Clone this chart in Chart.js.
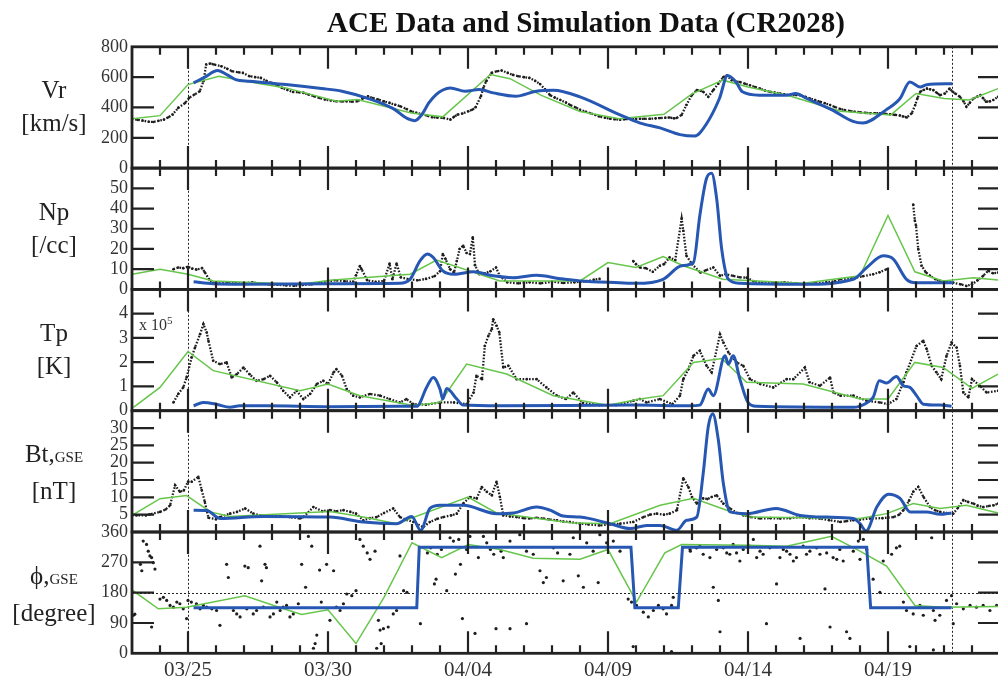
<!DOCTYPE html>
<html>
<head>
<meta charset="utf-8">
<script src="https://cdn.jsdelivr.net/npm/chart.js@4.4.1/dist/chart.umd.min.js"></script>
<style>
  html, body { margin:0; padding:0; background:#fff; width:998px; height:679px; overflow:hidden; }
  #wrap { position:relative; width:1004px; height:679px; }
  #chart { position:absolute; left:0; top:0; }
  .title { position:absolute; left:327px; top:7.7px; font:bold 29px 'Liberation Serif', serif; line-height:29px; color:#111; white-space:nowrap; }
  .ylab { position:absolute; left:0; width:108px; text-align:center; font:25px 'Liberation Serif', serif; line-height:33px; color:#222; white-space:nowrap; }
  .ylab small { font-size:15px; }
  .mult { position:absolute; left:139px; top:314px; font:16px 'Liberation Serif', serif; color:#333; }
  .mult sup { font-size:11px; }
</style>
</head>
<body>
<div id="wrap">
  <canvas id="chart" width="1004" height="679"></canvas>
  <div class="title">ACE Data and Simulation Data (CR2028)</div>
  <div class="ylab" id="lab-vr">Vr<br>[km/s]</div>
  <div class="ylab" id="lab-np">Np<br>[/cc]</div>
  <div class="ylab" id="lab-tp">Tp<br>[K]</div>
  <div class="ylab" id="lab-bt">Bt,<small>GSE</small><br>[nT]</div>
  <div class="ylab" id="lab-phi">ϕ,<small>GSE</small><br>[degree]</div>
  <div class="mult">x 10<sup>5</sup></div>
</div>
<script>
// ══════════════════════════════════════════════════════════════════════════════
//  DATA  (x = day counted from Mar 0, 2005 : 25 = 03/25, 35 = 04/04)
// ══════════════════════════════════════════════════════════════════════════════
const dateTicks  = [25, 30, 35, 40, 45, 50];
const dateLabels = ['03/25', '03/30', '04/04', '04/09', '04/14', '04/19'];
const crStart = 25, crEnd = 52.27;

// --- Vr [km/s]
const vrAce = [[23.0,326],[23.2,318],[23.38,313],[23.6,306],[23.76,304],[23.95,312],[24.14,320],[24.3,335],[24.45,353],[24.65,397],[24.9,430],[25.04,463],[25.23,485],[25.42,507],[25.55,573],[25.65,683],[25.8,690],[25.93,683],[26.19,672],[26.4,655],[26.57,639],[26.8,632],[26.96,628],[27.2,606],[27.4,600],[27.6,595],[27.8,575],[27.98,562],[28.2,545],[28.36,529],[28.55,515],[28.75,502],[28.95,500],[29.13,496],[29.3,485],[29.5,474],[29.7,462],[29.9,452],[30.1,446],[30.28,441],[30.5,440],[30.66,441],[30.85,438],[31.05,441],[31.25,460],[31.43,474],[31.6,462],[31.8,452],[32.0,440],[32.2,430],[32.4,418],[32.58,408],[32.8,390],[32.97,375],[33.15,365],[33.35,357],[33.55,345],[33.73,335],[33.9,333],[34.12,331],[34.37,320],[34.5,338],[34.63,353],[34.8,360],[35.01,375],[35.15,385],[35.27,401],[35.46,474],[35.55,530],[35.65,573],[35.84,628],[36.04,639],[36.2,643],[36.42,628],[36.6,615],[36.8,606],[37.0,600],[37.19,595],[37.4,575],[37.57,555],[37.75,520],[37.93,481],[38.1,465],[38.3,449],[38.5,432],[38.65,416],[38.85,400],[39.0,384],[39.2,372],[39.37,362],[39.55,350],[39.7,340],[39.9,332],[40.07,325],[40.25,322],[40.43,319],[40.6,322],[40.8,325],[41.0,325],[41.15,325],[41.3,325],[41.5,325],[41.7,328],[41.86,330],[42.05,332],[42.2,334],[42.35,328],[42.45,330],[42.63,351],[42.8,416],[42.99,481],[43.17,514],[43.3,510],[43.4,503],[43.58,470],[43.76,514],[43.94,557],[44.12,600],[44.24,611],[44.42,579],[44.55,572],[44.71,568],[44.9,556],[45.07,546],[45.25,535],[45.43,524],[45.6,512],[45.79,503],[45.95,498],[46.14,492],[46.3,487],[46.5,481],[46.7,482],[46.86,481],[47.05,470],[47.21,459],[47.4,448],[47.57,438],[47.75,428],[47.93,416],[48.1,403],[48.3,390],[48.45,383],[48.64,377],[48.8,372],[49.0,368],[49.2,364],[49.36,362],[49.55,362],[49.71,362],[49.9,358],[50.07,355],[50.25,351],[50.43,347],[50.55,340],[50.67,334],[50.85,362],[50.97,416],[51.05,460],[51.15,503],[51.27,515],[51.39,524],[51.5,520],[51.62,514],[51.75,495],[51.86,481],[52.03,492],[52.2,524],[52.3,505],[52.4,492],[52.57,470],[52.7,440],[52.8,405],[52.92,430],[53.05,459],[53.18,470],[53.3,481],[53.4,460],[53.5,438],[53.63,440],[53.76,449],[53.93,470]];
const vrModel = [[23.0,326],[24.0,346],[25.0,551],[26.1,605],[27.0,575],[28.5,529],[30.3,441],[31.05,452],[32.97,364],[34.1,338],[35.8,617],[36.5,590],[37.6,481],[39.0,373],[40.4,325],[42.0,355],[43.0,490],[44.1,580],[45.0,535],[46.4,481],[48.3,375],[50.1,351],[51.0,492],[52.0,459],[52.9,449],[53.93,524]];
const vrSim = [[25.2,562],[25.6,600],[26.06,643],[26.4,615],[26.7,584],[27.2,573],[28.5,551],[29.77,525],[30.5,507],[31.56,452],[32.33,392],[32.84,326],[33.1,313],[33.35,353],[33.6,430],[33.86,485],[34.1,515],[34.37,529],[34.9,507],[35.4,518],[35.9,496],[36.7,474],[37.44,507],[38.05,513],[39.0,470],[40.43,351],[41.15,297],[41.86,265],[42.57,221],[43.1,211],[43.5,287],[43.98,459],[44.27,611],[44.57,568],[44.8,503],[45.4,481],[46.38,481],[46.7,492],[47.1,459],[48.0,384],[48.75,308],[49.1,297],[49.93,384],[50.43,459],[50.78,568],[51.15,535],[51.38,550],[52.3,557]];

// --- Np [/cc]
const npAce = [[24.48,10.0],[24.65,10.8],[24.83,10.5],[25.0,11.2],[25.15,10.3],[25.3,9.8],[25.5,10.5],[25.6,8.5],[25.75,5.0],[25.9,3.3],[26.1,2.8],[26.4,3.5],[26.7,3.2],[27.0,3.0],[27.3,3.5],[27.6,2.8],[27.9,2.5],[28.2,2.3],[28.5,2.0],[28.8,1.8],[29.1,2.2],[29.4,2.5],[29.7,3.0],[30.0,4.0],[30.3,4.5],[30.6,4.0],[30.9,3.8],[31.0,7.0],[31.14,11.6],[31.2,10.0],[31.4,4.5],[31.7,3.7],[32.0,4.2],[32.2,12.8],[32.3,5.0],[32.45,12.8],[32.6,6.0],[32.9,5.0],[33.2,4.5],[33.5,5.2],[33.8,6.5],[34.0,9.0],[34.1,17.5],[34.2,15.0],[34.36,10.0],[34.5,8.3],[34.6,14.0],[34.7,20.0],[34.83,21.6],[34.95,18.0],[35.07,17.5],[35.17,25.8],[35.25,12.0],[35.4,7.5],[35.6,8.0],[35.8,9.0],[36.0,10.8],[36.14,6.6],[36.4,3.5],[36.8,3.0],[37.2,3.5],[37.6,3.0],[38.0,3.8],[38.4,3.2],[38.8,3.5],[39.2,4.0],[39.5,4.8],[39.7,5.2],[40.3,null],[40.9,14.0],[41.0,12.5],[41.14,10.8],[41.35,10.5],[41.6,8.7],[41.85,11.7],[42.0,12.5],[42.2,15.8],[42.4,14.5],[42.63,35],[42.69,29],[42.8,16.7],[43.0,12.5],[43.3,8.3],[43.5,9.5],[43.76,10.8],[44.0,6.7],[44.2,7.5],[44.47,6.7],[44.7,6.0],[44.95,5.8],[45.2,4.0],[45.5,3.3],[45.9,3.0],[46.3,3.5],[46.7,3.0],[47.0,2.5],[47.4,3.0],[47.8,3.5],[48.1,4.0],[48.3,5.0],[48.7,5.5],[49.1,6.5],[49.47,7.5],[49.7,8.5],[49.95,10.0],[50.4,null],[50.9,42],[50.96,34],[51.0,31.6],[51.08,20],[51.2,11.7],[51.35,8.5],[51.5,6.7],[51.7,5.0],[51.85,4.2],[52.1,3.8],[52.33,3.3],[52.6,2.5],[52.8,1.7],[53.0,2.5],[53.2,4.5],[53.4,6.7],[53.58,9.2],[53.75,8.0],[53.93,8.3]];
const npModel = [[23.0,7.5],[24.0,10],[25.0,7.5],[25.9,4.2],[29.0,2.5],[30.07,4.5],[32.93,7.5],[33.88,14.5],[36.14,4.2],[39.0,4.2],[40.0,13.3],[41.0,10.8],[41.97,16.3],[42.69,11.7],[44.1,5.0],[46.97,3.0],[49.0,6.7],[50.0,36.6],[50.96,8.7],[51.97,4.2],[53.05,5.8],[53.93,4.7]];
const npSim = [[25.2,3.8],[25.9,2.8],[27.0,2.6],[30.07,2.8],[32.57,3.0],[32.93,5.0],[33.29,14.2],[33.55,17.5],[33.76,15.8],[34.1,9.2],[34.5,7.5],[35.2,8.7],[35.9,6.7],[36.6,5.8],[37.45,7.0],[38.3,5.3],[39.0,4.2],[40.4,3.3],[41.0,3.0],[41.97,5.0],[42.63,11.7],[43.05,13.3],[43.28,36.6],[43.52,55],[43.7,57.5],[43.88,45],[44.06,20],[44.3,5.0],[44.71,3.0],[46.97,2.5],[48.76,5.0],[49.24,10.8],[49.83,16.6],[50.19,15.0],[50.66,5.0],[51.0,3.3],[52.33,3.3]];

// --- Tp [K] in units of 1e5
const tpAce = [[24.48,0.34],[24.65,0.69],[24.83,0.96],[24.95,1.37],[25.13,2.2],[25.25,2.6],[25.43,3.15],[25.55,3.57],[25.67,3.22],[25.73,2.88],[25.9,2.06],[26.14,1.92],[26.38,1.99],[26.56,1.37],[26.74,1.5],[26.98,1.78],[27.2,1.5],[27.45,1.23],[27.7,1.3],[27.93,1.44],[28.17,1.17],[28.4,0.82],[28.64,0.55],[28.88,0.82],[29.12,0.48],[29.36,0.69],[29.6,1.1],[29.83,1.23],[30.0,1.1],[30.2,1.58],[30.3,1.71],[30.5,1.44],[30.67,0.89],[30.9,0.62],[31.14,0.55],[31.5,0.69],[31.86,0.62],[32.2,0.48],[32.57,0.34],[32.8,0.48],[33.05,0.27],[33.5,0.25],[34.0,0.34],[34.5,0.34],[34.95,0.27],[35.2,0.75],[35.3,1.44],[35.5,1.3],[35.6,2.67],[35.73,3.09],[35.85,3.36],[35.9,3.77],[36.02,3.5],[36.12,3.22],[36.26,1.78],[36.44,1.85],[36.74,1.3],[37.1,1.3],[37.45,1.3],[37.8,0.96],[38.17,0.62],[38.5,0.48],[38.76,0.75],[39.1,0.32],[39.7,0.23],[40.3,0.23],[40.9,0.41],[41.14,0.48],[41.38,0.34],[41.85,0.48],[42.3,0.27],[42.57,0.62],[42.69,1.3],[42.87,1.71],[43.05,2.26],[43.28,2.47],[43.52,1.85],[43.7,1.58],[44.0,3.15],[44.12,2.81],[44.3,2.4],[44.6,1.99],[44.83,1.85],[45.07,1.3],[45.43,1.1],[45.9,0.96],[46.38,1.3],[46.62,1.3],[47.03,1.78],[47.2,1.17],[47.57,1.03],[47.93,1.37],[48.05,0.75],[48.3,0.62],[48.76,0.62],[49.24,0.41],[49.71,0.34],[50.0,0.27],[50.3,0.48],[50.55,1.17],[50.66,1.58],[51.02,2.67],[51.26,2.88],[51.38,2.54],[51.56,1.85],[51.73,1.58],[51.9,1.3],[52.09,2.26],[52.27,2.81],[52.45,2.6],[52.57,1.85],[52.69,0.75],[52.87,0.55],[53.0,1.3],[53.28,1.03],[53.52,0.75],[53.93,0.82]];
const tpModel = [[23.05,0.14],[24.0,0.96],[25.0,2.44],[25.9,1.65],[29.0,0.82],[30.0,1.1],[31.14,0.62],[33.05,0.21],[34.0,0.34],[34.95,1.92],[36.38,1.51],[38.05,0.62],[40.0,0.23],[41.14,0.48],[41.97,0.62],[43.05,1.99],[44.06,2.15],[44.95,1.17],[46.97,1.1],[49.0,0.48],[50.0,0.48],[50.96,1.99],[51.97,1.78],[53.0,0.92],[53.93,1.51]];
const tpSim = [[25.2,0.2],[25.55,0.34],[26.0,0.27],[26.5,0.14],[26.85,0.2],[27.8,0.2],[30.07,0.16],[32.57,0.18],[33.17,0.18],[33.52,0.96],[33.76,1.37],[34.0,0.89],[34.1,0.48],[34.24,0.92],[34.6,0.48],[34.83,0.23],[36.14,0.2],[40.9,0.23],[42.93,0.2],[43.28,0.23],[43.58,0.89],[43.76,0.62],[44.18,2.26],[44.3,1.92],[44.47,2.26],[44.71,1.3],[45.0,0.34],[45.3,0.18],[48.76,0.14],[49.24,0.32],[49.47,0.55],[49.69,1.23],[49.95,1.14],[50.3,1.41],[50.55,1.03],[50.78,0.96],[51.02,0.62],[51.26,0.27],[51.85,0.23],[52.27,0.18]];

// --- Bt,GSE [nT]
const btAce = [[23.0,4.8],[23.17,4.8],[23.5,4.8],[23.64,5.1],[24.0,5.8],[24.2,6.5],[24.36,7.7],[24.54,13.5],[24.71,11.6],[24.85,12.0],[25.0,14.5],[25.13,14.5],[25.37,15.9],[25.49,12.1],[25.6,8.7],[25.73,4.1],[26.0,3.7],[26.14,4.3],[26.5,5.3],[26.75,5.8],[27.04,6.8],[27.33,5.3],[27.6,4.8],[27.93,4.8],[28.3,4.5],[28.64,4.3],[29.0,3.9],[29.12,4.3],[29.48,7.2],[29.8,6.0],[30.07,6.3],[30.3,6.0],[30.55,6.3],[30.8,5.8],[31.0,5.3],[31.26,3.4],[31.5,4.0],[31.74,4.3],[32.0,5.5],[32.33,6.8],[32.57,4.3],[32.8,3.5],[33.05,2.9],[33.4,1.4],[33.64,2.9],[33.9,3.8],[34.12,4.3],[34.4,4.8],[34.6,5.3],[34.83,8.2],[35.07,10.1],[35.31,9.7],[35.49,13.0],[35.67,11.6],[35.85,10.6],[36.02,14.5],[36.14,10.1],[36.26,4.8],[36.5,4.5],[36.74,4.3],[37.0,4.0],[37.2,3.9],[37.45,4.1],[37.69,3.9],[37.9,3.6],[38.17,3.4],[38.4,3.0],[38.64,2.9],[39.0,2.4],[39.3,2.2],[39.7,1.9],[40.07,2.2],[40.43,2.4],[40.9,2.9],[41.27,4.3],[41.5,5.0],[41.74,5.3],[42.0,5.0],[42.2,5.3],[42.46,6.3],[42.69,15.5],[42.87,13.0],[43.0,10.1],[43.17,8.2],[43.4,9.7],[43.55,9.5],[43.7,10.1],[43.88,10.6],[44.12,8.2],[44.36,6.8],[44.6,5.5],[44.84,4.8],[45.1,4.3],[45.43,3.9],[45.8,4.0],[46.14,3.9],[46.5,4.0],[46.86,4.3],[47.2,4.0],[47.57,3.9],[47.9,3.4],[48.29,2.9],[48.5,3.1],[48.76,3.4],[49.0,3.6],[49.36,3.9],[49.8,4.0],[50.2,4.3],[50.4,5.0],[50.55,6.3],[50.75,9.0],[50.9,11.6],[51.08,13.0],[51.27,10.1],[51.5,7.2],[51.7,6.2],[51.86,5.8],[52.1,5.5],[52.33,5.3],[52.5,7.0],[52.69,9.2],[52.85,8.7],[53.05,8.2],[53.2,7.6],[53.4,7.2],[53.6,7.5],[53.77,7.7],[53.93,8.2]];
const btModel = [[23.0,4.8],[24.0,9.6],[24.95,10.5],[25.8,5.8],[26.5,4.5],[30.07,5.9],[31.26,4.3],[32.45,2.4],[35.0,10.1],[36.02,5.5],[38.64,2.7],[40.07,2.4],[41.86,7.7],[43.05,9.7],[44.24,6.3],[45.07,4.3],[49.0,3.9],[49.95,5.3],[50.9,8.2],[51.86,6.8],[52.8,7.7],[53.93,5.5]];
const btSim = [[25.2,6.3],[25.67,6.2],[26.14,3.9],[27.69,4.5],[30.07,4.3],[31.26,2.9],[32.45,2.4],[32.99,4.5],[33.31,0.5],[33.64,6.8],[34.0,7.7],[34.83,7.7],[36.02,5.3],[36.62,5.5],[37.45,7.2],[37.93,6.3],[38.4,4.6],[39.0,4.3],[40.07,2.4],[40.79,1.0],[41.38,1.9],[41.86,1.9],[42.46,0.5],[42.81,3.4],[43.17,4.3],[43.4,16.9],[43.58,30.4],[43.74,34.1],[43.94,26.6],[44.12,14.0],[44.36,5.8],[44.96,5.3],[46.0,6.8],[46.86,4.8],[47.81,4.3],[48.76,3.9],[49.0,2.4],[49.22,0.3],[49.6,7.2],[50.02,10.9],[50.43,9.7],[50.79,5.8],[51.38,5.8],[51.86,5.1],[52.27,5.5]];

// --- phi,GSE [degree]
const phiAce = [[23.05,113],[23.1,116],[23.3,264],[23.35,245],[23.4,333],[23.52,323],[23.58,303],[23.64,289],[23.7,284],[23.7,78],[23.76,269],[23.82,250],[24.0,161],[24.12,166],[24.24,157],[24.36,142],[24.48,137],[24.6,152],[24.71,147],[24.83,132],[24.95,103],[25.0,157],[25.12,152],[25.3,147],[25.43,132],[25.55,142],[25.67,137],[25.85,132],[26.02,127],[26.14,83],[26.38,264],[26.44,225],[26.62,127],[26.74,117],[26.86,108],[27.03,259],[27.1,132],[27.15,254],[27.33,117],[27.45,127],[27.57,318],[27.63,215],[27.69,137],[27.75,264],[27.8,254],[27.93,108],[28.05,117],[28.17,152],[28.29,127],[28.4,137],[28.52,142],[28.64,108],[28.76,117],[28.94,147],[29.06,264],[29.2,196],[29.3,347],[29.42,318],[29.48,15],[29.54,29],[29.6,54],[29.7,247],[29.76,152],[29.95,264],[30.07,98],[30.2,245],[30.3,137],[30.43,127],[30.55,147],[30.67,176],[30.85,171],[31.0,186],[31.14,338],[31.26,318],[31.4,298],[31.5,279],[31.68,303],[31.74,15],[31.8,98],[31.86,69],[31.9,29],[31.98,73],[32.15,78],[32.33,117],[32.45,127],[32.57,289],[32.7,186],[32.82,181],[33.3,88],[33.55,298],[33.67,313],[33.8,206],[33.86,220],[33.9,294],[34.05,308],[34.24,186],[34.36,343],[34.48,333],[34.55,235],[34.67,338],[34.73,264],[34.8,103],[34.95,308],[35.07,347],[35.25,59],[35.37,284],[35.55,347],[35.67,328],[35.8,308],[35.92,294],[36.0,73],[36.18,303],[36.26,284],[36.5,333],[36.5,73],[36.85,352],[37.09,303],[37.09,88],[37.33,294],[37.57,245],[37.69,210],[37.8,225],[38.05,313],[38.2,298],[38.4,215],[38.64,294],[38.76,343],[38.94,230],[39.12,196],[39.24,328],[39.47,303],[39.65,210],[39.71,352],[39.95,328],[40.19,333],[40.43,303],[40.72,161],[40.84,152],[40.9,20],[41.02,142],[41.26,122],[41.44,108],[41.62,127],[41.8,142],[41.97,132],[42.09,117],[42.27,142],[42.27,5],[42.33,166],[42.93,308],[42.94,303],[43.16,313],[43.28,318],[43.4,294],[43.64,284],[43.76,196],[43.88,308],[43.94,157],[44.0,64],[44.12,313],[44.24,298],[44.35,294],[44.47,323],[44.59,298],[44.71,274],[44.83,308],[45.07,318],[45.19,338],[45.31,284],[45.43,303],[45.54,294],[45.66,88],[45.78,313],[46.02,206],[46.14,284],[46.26,308],[46.38,303],[46.5,294],[46.62,274],[46.73,284],[46.86,44],[46.97,318],[47.09,294],[47.21,303],[47.45,313],[47.57,294],[47.75,191],[47.81,298],[47.93,78],[48.04,284],[48.17,279],[48.28,308],[48.4,274],[48.52,64],[48.64,44],[48.76,303],[48.94,333],[49.0,279],[49.12,338],[49.24,308],[49.47,220],[49.71,181],[49.83,274],[50.13,294],[50.3,313],[50.42,318],[50.55,152],[50.66,127],[50.78,20],[50.9,117],[51.14,142],[51.26,113],[51.56,343],[51.62,127],[51.62,10],[51.68,98],[51.85,113],[52.09,157],[52.27,171],[52.33,88],[52.45,147],[52.69,132],[52.93,142],[53.16,137],[53.4,142],[53.64,127],[53.88,142]];
const phiModel = [[23.0,188],[23.94,132],[24.95,137],[27.03,171],[28.17,139],[29.06,115],[30.0,129],[31.0,29],[32.0,166],[33.0,328],[34.06,284],[35.01,323],[36.14,308],[37.33,282],[39.0,279],[40.0,308],[41.02,152],[42.03,298],[42.63,323],[45.0,321],[46.38,318],[47.98,347],[49.0,303],[49.95,259],[50.96,142],[51.97,137],[53.93,139]];
const phiSim = [[25.2,135],[33.17,135],[33.26,315],[40.82,315],[40.96,135],[42.51,135],[42.66,315],[49.24,315],[49.38,135],[52.27,135]];

// ══════════════════════════════════════════════════════════════════════════════
//  PANELS
// ══════════════════════════════════════════════════════════════════════════════
const BLACK = '#1e1e1e', GREEN = '#66c64a', BLUE = '#2657b2';
const pts = arr => arr.map(([x, y]) => ({ x, y }));

// bottom to top (left stacked axes are laid out last-first)
const panels = [
  { id:'phi', min:0, max:360, step:90, hide:[],      ace:phiAce, model:phiModel, sim:phiSim, scatter:true, smooth:false },
  { id:'bt',  min:0, max:35,  step:5,  hide:[0, 35], ace:btAce,  model:btModel,  sim:btSim },
  { id:'tp',  min:0, max:5,   step:1,  hide:[5],     ace:tpAce,  model:tpModel,  sim:tpSim },
  { id:'np',  min:0, max:60,  step:10, hide:[60],    ace:npAce,  model:npModel,  sim:npSim },
  { id:'vr',  min:0, max:800, step:200, hide:[],     ace:vrAce,  model:vrModel,  sim:vrSim },
];

const scales = {
  x: {
    type:'linear', min:23, max:54,
    grid:{ display:false, drawTicks:false }, border:{ display:false },
    afterBuildTicks(s) { s.ticks = dateTicks.map(v => ({ value:v })); },
    afterFit(s) { s.height = 25.7; },
    ticks:{
      autoSkip:false, maxRotation:0, padding:5, color:'#333',
      font:{ family:'Liberation Serif', size:21 },
      callback: v => { const i = dateTicks.indexOf(v); return i < 0 ? '' : dateLabels[i]; },
    },
  },
};
const datasets = [];
panels.forEach((p, i) => {
  scales[p.id] = {
    type:'linear', position:'left', stack:'panels', stackWeight:1, weight:i + 1,
    min:p.min, max:p.max,
    grid:{ display:false, drawTicks:false }, border:{ display:false },
    afterFit(s) { s.width = 132; },
    ticks:{
      stepSize:p.step, autoSkip:false, padding:4, color:'#333',
      font:{ family:'Liberation Serif', size:18 },
      callback: v => p.hide.includes(v) ? '' : String(v),
    },
  };
  datasets.push({
    label:p.id + ' ACE', data:pts(p.ace), yAxisID:p.id, order:3,
    showLine:!p.scatter, borderColor:BLACK, borderWidth:2.3, borderDash:[1.6, 1.6], spanGaps:false,
    pointRadius:p.scatter ? 1.6 : 1.3, pointBackgroundColor:BLACK, pointBorderWidth:0,
  });
  datasets.push({
    label:p.id + ' model', data:pts(p.model), yAxisID:p.id, order:2,
    borderColor:GREEN, borderWidth:1.5, pointRadius:0, tension:0,
  });
  datasets.push({
    label:p.id + ' simulation', data:pts(p.sim), yAxisID:p.id, order:1,
    borderColor:BLUE, borderWidth:3, pointRadius:0,
    cubicInterpolationMode: p.smooth === false ? 'default' : 'monotone', tension:0,
  });
});

// ══════════════════════════════════════════════════════════════════════════════
//  FRAME PLUGIN (boxes, inward ticks, dotted guide lines)
// ══════════════════════════════════════════════════════════════════════════════
const framePlugin = {
  id:'frame',
  beforeDatasetsDraw(chart) {
    const { ctx, chartArea:a, scales:s } = chart;
    ctx.save();
    ctx.strokeStyle = '#222'; ctx.lineWidth = 1; ctx.setLineDash([2, 2]);
    [crStart, crEnd].forEach(d => {
      const px = Math.round(s.x.getPixelForValue(d)) + 0.5;
      ctx.beginPath(); ctx.moveTo(px, a.top); ctx.lineTo(px, a.bottom); ctx.stroke();
    });
    const py = Math.round(s.phi.getPixelForValue(180)) + 0.5;
    ctx.beginPath(); ctx.moveTo(a.left, py); ctx.lineTo(a.right, py); ctx.stroke();
    ctx.restore();
  },
  afterDatasetsDraw(chart) {
    const { ctx, chartArea:a, scales:s } = chart;
    ctx.save();
    ctx.strokeStyle = '#222'; ctx.setLineDash([]);
    panels.forEach(p => {
      const y = s[p.id];
      ctx.lineWidth = 2.2;
      ctx.beginPath();
      for (let d = Math.ceil(s.x.min); d <= s.x.max; d++) {
        const px = s.x.getPixelForValue(d);
        if (px <= a.left + 1 || px >= a.right - 1) continue;
        const len = d % 5 === 0 ? 22 : 8;
        ctx.moveTo(px, y.top); ctx.lineTo(px, y.top + len);
        ctx.moveTo(px, y.bottom); ctx.lineTo(px, y.bottom - len);
      }
      y.ticks.forEach(t => {
        if (t.value <= y.min || t.value >= y.max) return;
        const py = y.getPixelForValue(t.value);
        ctx.moveTo(a.left, py); ctx.lineTo(a.left + 22, py);
        ctx.moveTo(a.right, py); ctx.lineTo(a.right - 22, py);
      });
      ctx.stroke();
      ctx.lineWidth = 2.8;
      ctx.strokeRect(a.left, y.top, a.right - a.left, y.bottom - y.top);
    });
    ctx.restore();
  },
};

const chart = new Chart(document.getElementById('chart'), {
  type:'line',
  data:{ datasets },
  options:{
    responsive:false, animation:false, devicePixelRatio:1,
    layout:{ padding:{ top:46.8, right:4, left:0, bottom:0 } },
    plugins:{ legend:{ display:false }, tooltip:{ enabled:false } },
    scales,
  },
  plugins:[framePlugin],
});

// y labels sit at the middle of each panel
panels.forEach(p => {
  const y = chart.scales[p.id];
  document.getElementById('lab-' + p.id).style.top = ((y.top + y.bottom) / 2 - 34) + 'px';
});
</script>
</body>
</html>
